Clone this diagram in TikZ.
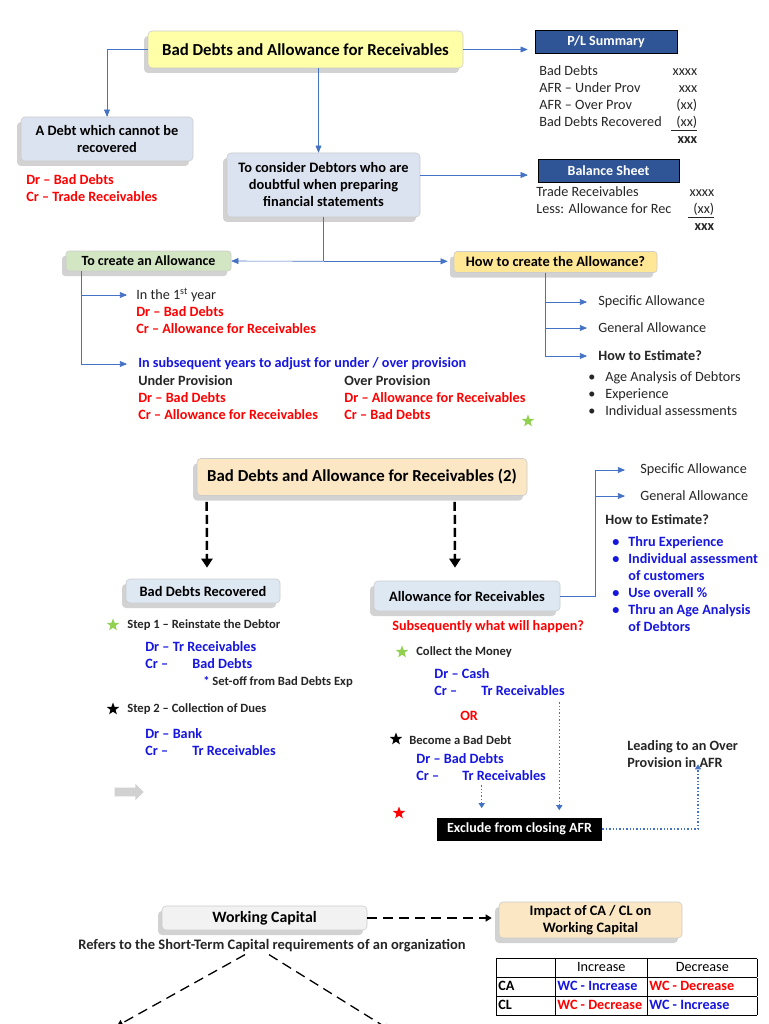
\documentclass[tikz,border=0pt]{standalone}
\usepackage{fontspec}
\setmainfont{Carlito}
\usepackage{tikz}
\usetikzlibrary{shapes,arrows,arrows.meta,calc,positioning,shadows}

\definecolor{linkblue}{HTML}{4472C4}
\definecolor{txtred}{HTML}{FF0000}
\definecolor{txtblue}{HTML}{1616E0}
\definecolor{headblue}{HTML}{2F5597}
\definecolor{lemon}{HTML}{FFFFA8}
\definecolor{mist}{HTML}{DCE3F0}
\definecolor{sage}{HTML}{D3E6C4}
\definecolor{butter}{HTML}{FFE796}
\definecolor{sand}{HTML}{FBE7C3}
\definecolor{ice}{HTML}{DDE8F3}
\definecolor{cloud}{HTML}{F2F2F2}
\definecolor{leafgreen}{HTML}{92D050}

\begin{document}
\begin{tikzpicture}[x=1pt,y=-1pt,>=triangle 45,semithick,
		every node/.style={font=\fontsize{14.2}{17}\selectfont},
		box node/.style={rectangle, rounded corners=4pt, draw=black!20, align=center, inner sep=2pt, font=\fontsize{14.4}{17}\selectfont\bfseries, drop shadow={shadow xshift=-4pt, shadow yshift=-5pt, opacity=.35}},
		title node/.style={box node, font=\fontsize{16.8}{20}\selectfont\bfseries},
		head node/.style={rectangle, draw=black, fill=headblue, text=white, inner sep=0pt, font=\fontsize{14}{17}\selectfont\bfseries},
		text node/.style={anchor=west, inner sep=0pt, align=left, text=black!85},
		bold node/.style={text node, font=\fontsize{14.2}{17}\selectfont\bfseries},
		red node/.style={bold node, text=txtred},
		blue node/.style={bold node, text=txtblue},
		small node/.style={text node, font=\fontsize{12.6}{15}\selectfont\bfseries},
		star node/.style={star, star points=5, star point ratio=2.4, inner sep=0pt, minimum size=13pt},
		link/.style={->, draw=linkblue},
		dot link/.style={draw=linkblue, line width=1.4pt, dotted, -{Triangle[length=5pt,width=6pt]}},
		fat dash/.style={line width=2.5pt, dash pattern=on 9pt off 4pt, -{Triangle[length=9pt,width=11pt]}},
		thin dash/.style={line width=1.3pt, dash pattern=on 10pt off 6pt, -{Triangle[length=6pt,width=7pt]}}]

	\useasboundingbox[fill=white] (0,0) rectangle (768,1024);

	% first chart
	\node[title node, fill=lemon, minimum width=315pt, minimum height=37pt] (bad) at (305.5,49.5) {Bad Debts and Allowance for Receivables};
	\node[box node, fill=mist, minimum width=172pt, minimum height=44pt] (debt) at (107,139) {A Debt which cannot be\\recovered};
	\node[red node] (debtje) at (26,188) {Dr – Bad Debts\\Cr – Trade Receivables};
	\node[box node, fill=mist, minimum width=193pt, minimum height=64pt] (doubt) at (323.5,185) {To consider Debtors who are\\doubtful when preparing\\financial statements};
	\node[head node, minimum width=142pt, minimum height=23pt] (pl) at (606,42) {P/L Summary};
	\node[text node] (pltab) at (539,106.5) {\begin{tabular}{@{}p{132pt}@{}r@{}}Bad Debts & xxxx\\AFR – Under Prov & xxx\\AFR – Over Prov & (xx)\\Bad Debts Recovered & \underline{\hspace{5pt}(xx)}\\ & \textbf{xxx}\end{tabular}};
	\node[head node, minimum width=141pt, minimum height=23pt] (bs) at (608.5,170.5) {Balance Sheet};
	\node[text node] (bstab) at (536,210.5) {\begin{tabular}{@{}p{152pt}@{}r@{}}Trade Receivables & xxxx\\Less: Allowance for Rec & \underline{\hspace{5pt}(xx)}\\ & \textbf{xxx}\end{tabular}};

	\draw[link] (bad.west) -| (debt.north);
	\draw[link] ([xshift=-5pt]doubt.north |- bad.south) -- ([xshift=-5pt]doubt.north);
	\draw[link, shorten >=7pt] (bad.east) -- (bad.east -| pl.west);
	\coordinate (bsin) at ($(doubt.east)+(0,-10)$);
	\draw[link, shorten >=10pt] (bsin) -- (bsin -| bs.west);

	\node[box node, fill=sage, minimum width=165pt, minimum height=20pt, rounded corners=3pt, font=\fontsize{14}{17}\selectfont\bfseries] (create) at (148.5,261) {To create an Allowance};
	\node[box node, fill=butter, minimum width=203pt, minimum height=21pt, rounded corners=3pt] (howto) at (555.5,262) {How to create the Allowance?};
	\coordinate (split) at ($(doubt.south)+(0,44)$);
	\draw[linkblue] (doubt.south) -- (split);
	\draw[link] (split) -- (create.east);
	\draw[link, shorten >=6pt] (split) -- (split -| howto.west);

	\node[text node] (first) at (136,295) {In the 1\textsuperscript{st} year};
	\node[red node] (firstje) at (136,320.5) {Dr – Bad Debts\\Cr – Allowance for Receivables};
	\node[blue node] (later) at (138,364) {In subsequent years to adjust for under / over provision};
	\node[bold node] (under) at (138,398) {Under Provision\\\textcolor{txtred}{Dr – Bad Debts}\\\textcolor{txtred}{Cr – Allowance for Receivables}};
	\node[bold node] (over) at (344,398) {Over Provision\\\textcolor{txtred}{Dr – Allowance for Receivables}\\\textcolor{txtred}{Cr – Bad Debts}};
	\draw[link, shorten >=9pt] ([xshift=16pt]create.south west) |- (first.west);
	\draw[link, shorten >=11pt] ([xshift=16pt]create.south west) |- (later.west);
	\node[star node, fill=leafgreen] (starA) at (528,421) {};

	\node[text node] (specific) at (598,302) {Specific Allowance};
	\node[text node] (general) at (598,328) {General Allowance};
	\node[bold node] (estimate) at (598,356) {How to Estimate?};
	\node[text node] (ways) at (588,395) {\begin{tabular}{@{}l@{\hspace{10pt}}l@{}}\textbullet & Age Analysis of Debtors\\\textbullet & Experience\\\textbullet & Individual assessments\end{tabular}};
	\foreach \t in {specific,general,estimate}
		\draw[link, shorten >=11pt] ([xshift=92pt]howto.south west) |- (\t.west);

	% second chart
	\node[title node, fill=sand, minimum width=330pt, minimum height=37pt] (bad2) at (362,477) {Bad Debts and Allowance for Receivables (2)};
	\node[box node, fill=ice, minimum width=154pt, minimum height=24pt] (recov) at (203,591) {Bad Debts Recovered};
	\node[box node, fill=ice, minimum width=186pt, minimum height=30pt] (afr) at (467,596) {Allowance for Receivables};
	\draw[fat dash] ($(bad2.south west)+(10,6)$) -- ($(recov.north)+(4,-11)$);
	\draw[fat dash] ($(bad2.south west)+(258,6)$) -- ($(afr.north)+(-12,-13)$);

	\node[text node] (specific2) at (640,470) {Specific Allowance};
	\node[text node] (general2) at (640,496) {General Allowance};
	\coordinate (fork) at ($(afr.east)+(35,0)$);
	\draw[link, shorten >=15pt] (afr.east) -- (fork) |- (specific2.west);
	\draw[link, shorten >=15pt] (fork) |- (general2.west);
	\node[bold node] (estimate2) at (605,520) {How to Estimate?};
	\node[blue node, anchor=north west] (tips) at (612,534.5) {\begin{tabular}{@{}l@{\hspace{9pt}}l@{}}\textbullet & Thru Experience\\\textbullet & Individual assessment\\ & of customers\\\textbullet & Use overall \%\\\textbullet & Thru an Age Analysis\\ & of Debtors\end{tabular}};

	\node[star node, fill=leafgreen] (starB) at (113,625) {};
	\node[small node] (step1) at (127,625) {Step 1 – Reinstate the Debtor};
	\node[blue node] (step1je) at (145,655.5) {Dr – Tr Receivables\\\makebox[47pt][l]{Cr –}Bad Debts};
	\node[small node] (setoff) at (203,682) {\textcolor{txtblue}{*} Set-off from Bad Debts Exp};
	\node[star node, fill=black] (starC) at (113,709) {};
	\node[small node] (step2) at (127,709) {Step 2 – Collection of Dues};
	\node[blue node] (step2je) at (145,742.5) {Dr – Bank\\\makebox[47pt][l]{Cr –}Tr Receivables};
	\node[single arrow, fill=black!18, minimum height=29pt, inner sep=4pt, single arrow head extend=4pt] (grayarrow) at (127,792) {};

	\node[red node] (then) at (392,627) {Subsequently what will happen?};
	\node[star node, fill=leafgreen] (starD) at (402,652) {};
	\node[small node] (collect) at (416,652) {Collect the Money};
	\node[blue node] (cash) at (434,682.5) {Dr – Cash\\\makebox[47pt][l]{Cr –}Tr Receivables};
	\node[red node] (orword) at (460,716) {OR};
	\node[star node, fill=black] (starE) at (396,739) {};
	\node[small node] (become) at (409,740) {Become a Bad Debt};
	\node[blue node] (writeoff) at (416,767.5) {Dr – Bad Debts\\\makebox[46pt][l]{Cr –}Tr Receivables};
	\node[star node, fill=txtred] (starF) at (399,813) {};
	\node[rectangle, fill=black, text=white, font=\fontsize{14}{17}\selectfont\bfseries, minimum width=165pt, minimum height=23pt] (exclude) at (519.5,829) {Exclude from closing AFR};
	\node[bold node] (overafr) at (627,754.5) {Leading to an Over\\Provision in AFR};
	\draw[dot link] ($(exclude.north west)+(45,-32)$) -- ($(exclude.north west)+(45,-9)$);
	\draw[dot link] ($(exclude.north east)+(-43,-115)$) -- ($(exclude.north east)+(-43,-7)$);
	\draw[dot link] (exclude.east) -| ($(overafr.south west)+(71,-4)$);

	% working capital
	\node[box node, fill=cloud, minimum width=205pt, minimum height=24pt, font=\fontsize{15.8}{19}\selectfont\bfseries] (wc) at (264.5,918) {Working Capital};
	\node[box node, fill=sand, minimum width=183pt, minimum height=36pt] (impact) at (590.5,920) {Impact of CA / CL on\\Working Capital};
	\draw[thin dash, shorten >=7pt] (wc.east) -- (wc.east -| impact.west);
	\node[bold node, anchor=center, font=\fontsize{14.5}{17}\selectfont\bfseries] (refers) at (272,946) {Refers to the Short-Term Capital requirements of an organization};
	\coordinate (wcleft) at (117,1026);
	\coordinate (wcright) at (390,1030);
	\draw[thin dash] ($(refers.south)+(-27,2)$) -- (wcleft);
	\draw[thin dash] ($(refers.south)+(-3,2)$) -- (wcright);
	\node[anchor=north west, inner sep=0pt] (wctab) at (496,958) {\setlength{\tabcolsep}{2pt}\setlength{\arrayrulewidth}{1pt}\renewcommand{\arraystretch}{1.05}%
		\begin{tabular}{|p{55pt}|p{88pt}|p{106pt}|}\hline
		& \hfill Increase\hfill\null & \hfill Decrease\hfill\null\\\hline
		\textbf{CA} & \textbf{\textcolor{txtblue}{WC - Increase}} & \textbf{\textcolor{txtred}{WC - Decrease}}\\\hline
		\textbf{CL} & \textbf{\textcolor{txtred}{WC - Decrease}} & \textbf{\textcolor{txtblue}{WC - Increase}}\\\hline
		\end{tabular}};
\end{tikzpicture}
\end{document}
